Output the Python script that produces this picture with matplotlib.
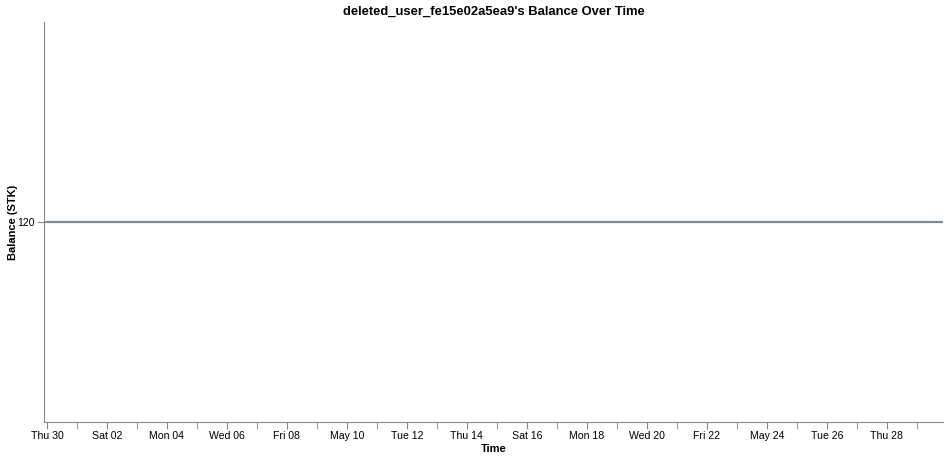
import datetime as dt

import matplotlib
matplotlib.use("Agg")
import matplotlib.pyplot as plt
import matplotlib.dates as mdates

# DATA

times = [dt.datetime(2020, 4, 29, 21, 36), dt.datetime(2020, 5, 29, 21, 0)]
balance = [120, 120]

user = "deleted_user_fe15e02a5ea9"

# FIGURE

plt.rcParams["font.family"] = ["Liberation Sans", "DejaVu Sans"]

fig = plt.figure(figsize=(9.51, 4.59), dpi=100)
ax = fig.add_axes([44 / 951, 1 - 422 / 459, (943 - 44) / 951, 400 / 459])

ax.plot(times, balance, color="#7f8b97", linewidth=1.6)

ax.set_xlim(times[0], times[-1])
ax.set_ylim(119, 121)
ax.set_yticks([120])


def day_label(x, pos=None):
    d = mdates.num2date(x)
    if d.weekday() == 6:
        return d.strftime("%b %d")
    return d.strftime("%a %d")


# labelled tick every 2 days from Apr 30, plain tick on the days between
major = [mdates.date2num(dt.datetime(2020, 4, 30))]
major += [mdates.date2num(dt.datetime(2020, 5, d)) for d in range(2, 30, 2)]
minor = [mdates.date2num(dt.datetime(2020, 5, d)) for d in range(1, 30, 2)]
ax.set_xticks(major)
ax.set_xticks(minor, minor=True)
ax.xaxis.set_major_formatter(plt.FuncFormatter(day_label))

for s in ["top", "right"]:
    ax.spines[s].set_visible(False)
for s in ["left", "bottom"]:
    ax.spines[s].set_color("#888888")

ax.tick_params(axis="both", which="both", color="#888888", length=5,
               labelsize=7.6, labelcolor="#000000", pad=1.5)

ax.set_title(f"{user}'s Balance Over Time", fontsize=9.4, fontweight="bold", pad=5)
ax.set_xlabel("Time", fontsize=8, fontweight="bold", labelpad=2)
ax.set_ylabel("Balance (STK)", fontsize=8, fontweight="bold")
ax.yaxis.set_label_coords(-26 / 899, 0.5)

fig.savefig("out.png", dpi=100)
